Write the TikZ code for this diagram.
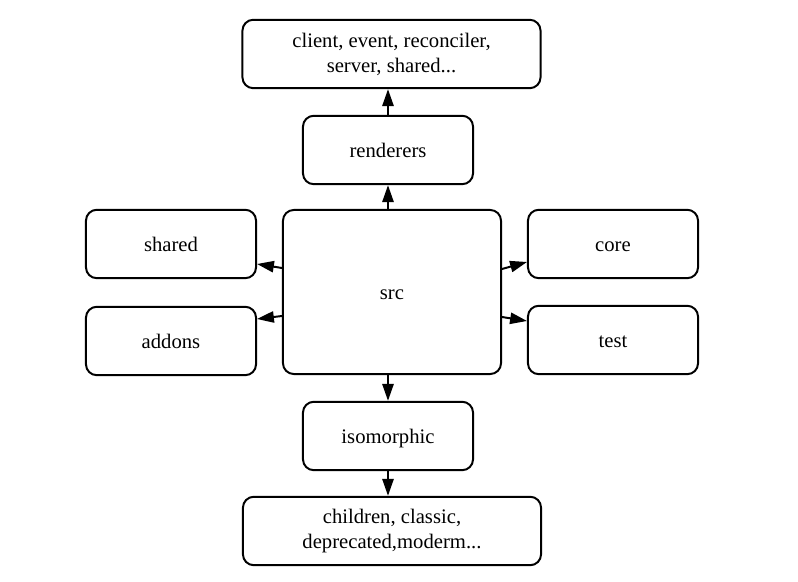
\documentclass[tikz,border=0pt]{standalone}
\usepackage{fontspec}
\setmainfont{Liberation Serif}
\usepackage{tikz}
\usetikzlibrary{arrows.meta}

\begin{document}
\begin{tikzpicture}[x=0.025cm, y=-0.025cm,
    basebox/.style={draw=black, line width=1.4pt, rounded corners=0.27cm,
                    minimum width=4.25cm, minimum height=1.71cm,
                    font=\fontsize{14.7}{17.7}\selectfont},
    dirbox/.style={basebox, text height=11pt, text depth=0pt},
    widebox/.style={basebox, minimum width=7.45cm, align=center},
    srcbox/.style={dirbox, minimum width=5.45cm, minimum height=4.1cm},
    link/.style={line width=1.4pt, -{Triangle[length=12pt, width=8pt]}}]
    \useasboundingbox (0,0) rectangle (798,582);
    % centre
    \node [srcbox] (src) at (392,292) {src};
    % up
    \node [dirbox] (renderers) at (388,150) {renderers};
    \node [widebox] (rendsub) at (391.5,54) {client, event, reconciler,\\server, shared...};
    % down
    \node [dirbox] (isomorphic) at (388,436) {isomorphic};
    \node [widebox] (isosub) at (392,531) {children, classic,\\deprecated,moderm...};
    % sides
    \node [dirbox] (shared) at (171,244) {shared};
    \node [dirbox] (addons) at (171,341) {addons};
    \node [dirbox] (core) at (613,244) {core};
    \node [dirbox] (test) at (613,340) {test};

    \draw [link] (src.north -| renderers.south) -- (renderers.south);
    \draw [link] (renderers.north) -- (renderers.north |- rendsub.south);
    \draw [link] (src.south -| isomorphic.north) -- (isomorphic.north);
    \draw [link] (isomorphic.south) -- (isomorphic.south |- isosub.north);
    \draw [link] (src.west |- 0,268) -- (shared.east |- 0,264);
    \draw [link] (src.west |- 0,316) -- (addons.east |- 0,319);
    \draw [link] (src.east |- 0,269) -- (core.west |- 0,262);
    \draw [link] (src.east |- 0,317) -- (test.west |- 0,321);
\end{tikzpicture}
\end{document}
